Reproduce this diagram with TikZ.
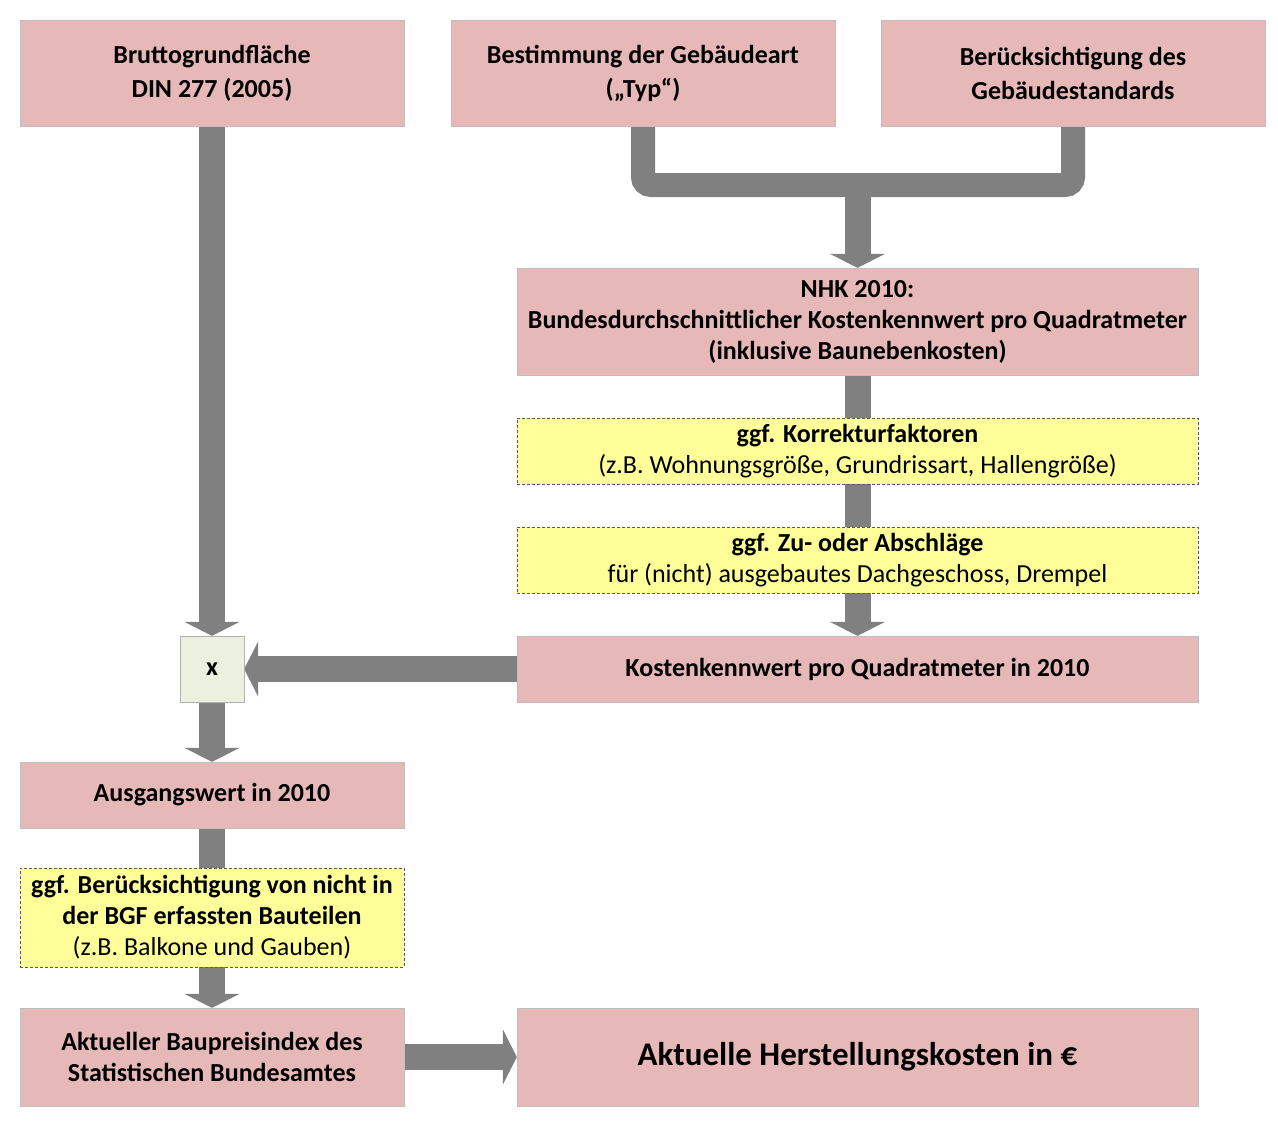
\documentclass[tikz,border=0pt]{standalone}
\usepackage{fontspec}
\setmainfont{Carlito}
\usetikzlibrary{arrows.meta,backgrounds}
\definecolor{stagepink}{HTML}{E6B9B8}
\definecolor{optionyellow}{HTML}{FFFF99}
\definecolor{multgreen}{HTML}{EBF1DE}
\definecolor{flowgrey}{HTML}{808080}
\tikzset{
  stage/.style={draw=black!25, fill=stagepink, inner sep=0pt, align=center,
    minimum width=384pt, minimum height=66pt,
    font=\fontsize{26}{31}\selectfont\bfseries},
  widestage/.style={stage, minimum width=681pt},
  option/.style={draw=black!65, dash pattern=on 3pt off 2pt, line width=0.7pt,
    fill=optionyellow, inner sep=0pt, align=center,
    minimum width=681pt, minimum height=66pt,
    font=\fontsize{26}{31}\selectfont},
  flow/.style={draw=flowgrey, line width=26pt,
    -{Triangle[width=55pt,length=14pt]}},
  merger/.style={draw=flowgrey, line width=24pt, rounded corners=8pt}
}
\begin{document}
\begin{tikzpicture}[x=1pt,y=-1pt]
    \useasboundingbox (0,0) rectangle (1278,1133);
    % inputs
    \node[stage, minimum height=106pt, font=\fontsize{26}{34}\selectfont\bfseries] (bgf) at (212,73) {Bruttogrundfläche\\DIN 277 (2005)};
    \node[stage, minimum height=106pt, font=\fontsize{26}{34}\selectfont\bfseries] (typ) at (643,73) {Bestimmung der Gebäudeart\\(„Typ“)};
    \node[stage, minimum height=106pt, font=\fontsize{26}{34}\selectfont\bfseries] (std) at (1073,73) {Berücksichtigung des\\Gebäudestandards};
    % right column
    \node[widestage, minimum height=107pt] (nhk) at (857.5,321.5) {NHK 2010:\\Bundesdurchschnittlicher Kostenkennwert pro Quadratmeter\\(inklusive Baunebenkosten)};
    \node[option] (korr) at (857.5,451) {{\bfseries ggf. Korrekturfaktoren}\\(z.B. Wohnungsgröße, Grundrissart, Hallengröße)};
    \node[option] (zuab) at (857.5,560) {{\bfseries ggf. Zu- oder Abschläge}\\für (nicht) ausgebautes Dachgeschoss, Drempel};
    \node[widestage] (kkw) at (857.5,669) {Kostenkennwert pro Quadratmeter in 2010};
    % left column
    \node[draw=black!30, fill=multgreen, minimum width=64pt, minimum height=66pt, inner sep=0pt, font=\fontsize{26}{31}\selectfont\bfseries] (mult) at (212,669) {x};
    \node[stage] (aw) at (212,795) {Ausgangswert in 2010};
    \node[option, minimum width=384pt, minimum height=99pt] (bgfteile) at (212,917.5) {{\bfseries ggf. Berücksichtigung von nicht in}\\{\bfseries der BGF erfassten Bauteilen}\\(z.B. Balkone und Gauben)};
    \node[stage, minimum height=98pt] (bpi) at (212,1057) {Aktueller Baupreisindex des\\Statistischen Bundesamtes};
    \node[widestage, minimum height=98pt, font=\fontsize{33}{38}\selectfont\bfseries] (hk) at (857.5,1057) {Aktuelle Herstellungskosten in €};
    \coordinate (merge) at (857.5,185);
    % connectors
    \begin{scope}[on background layer]
        \draw[merger] (typ.south) |- (merge) -| (std.south);
        \draw[flow] (merge) -- (nhk.north);
        \draw[flow] (nhk.south) -- (kkw.north);
        \draw[flow] (bgf.south) -- (mult.north);
        \draw[flow] (kkw.west) -- (mult.east);
        \draw[flow] (mult.south) -- (aw.north);
        \draw[flow] (aw.south) -- (bpi.north);
        \draw[flow] (bpi.east) -- (hk.west);
    \end{scope}
\end{tikzpicture}
\end{document}
